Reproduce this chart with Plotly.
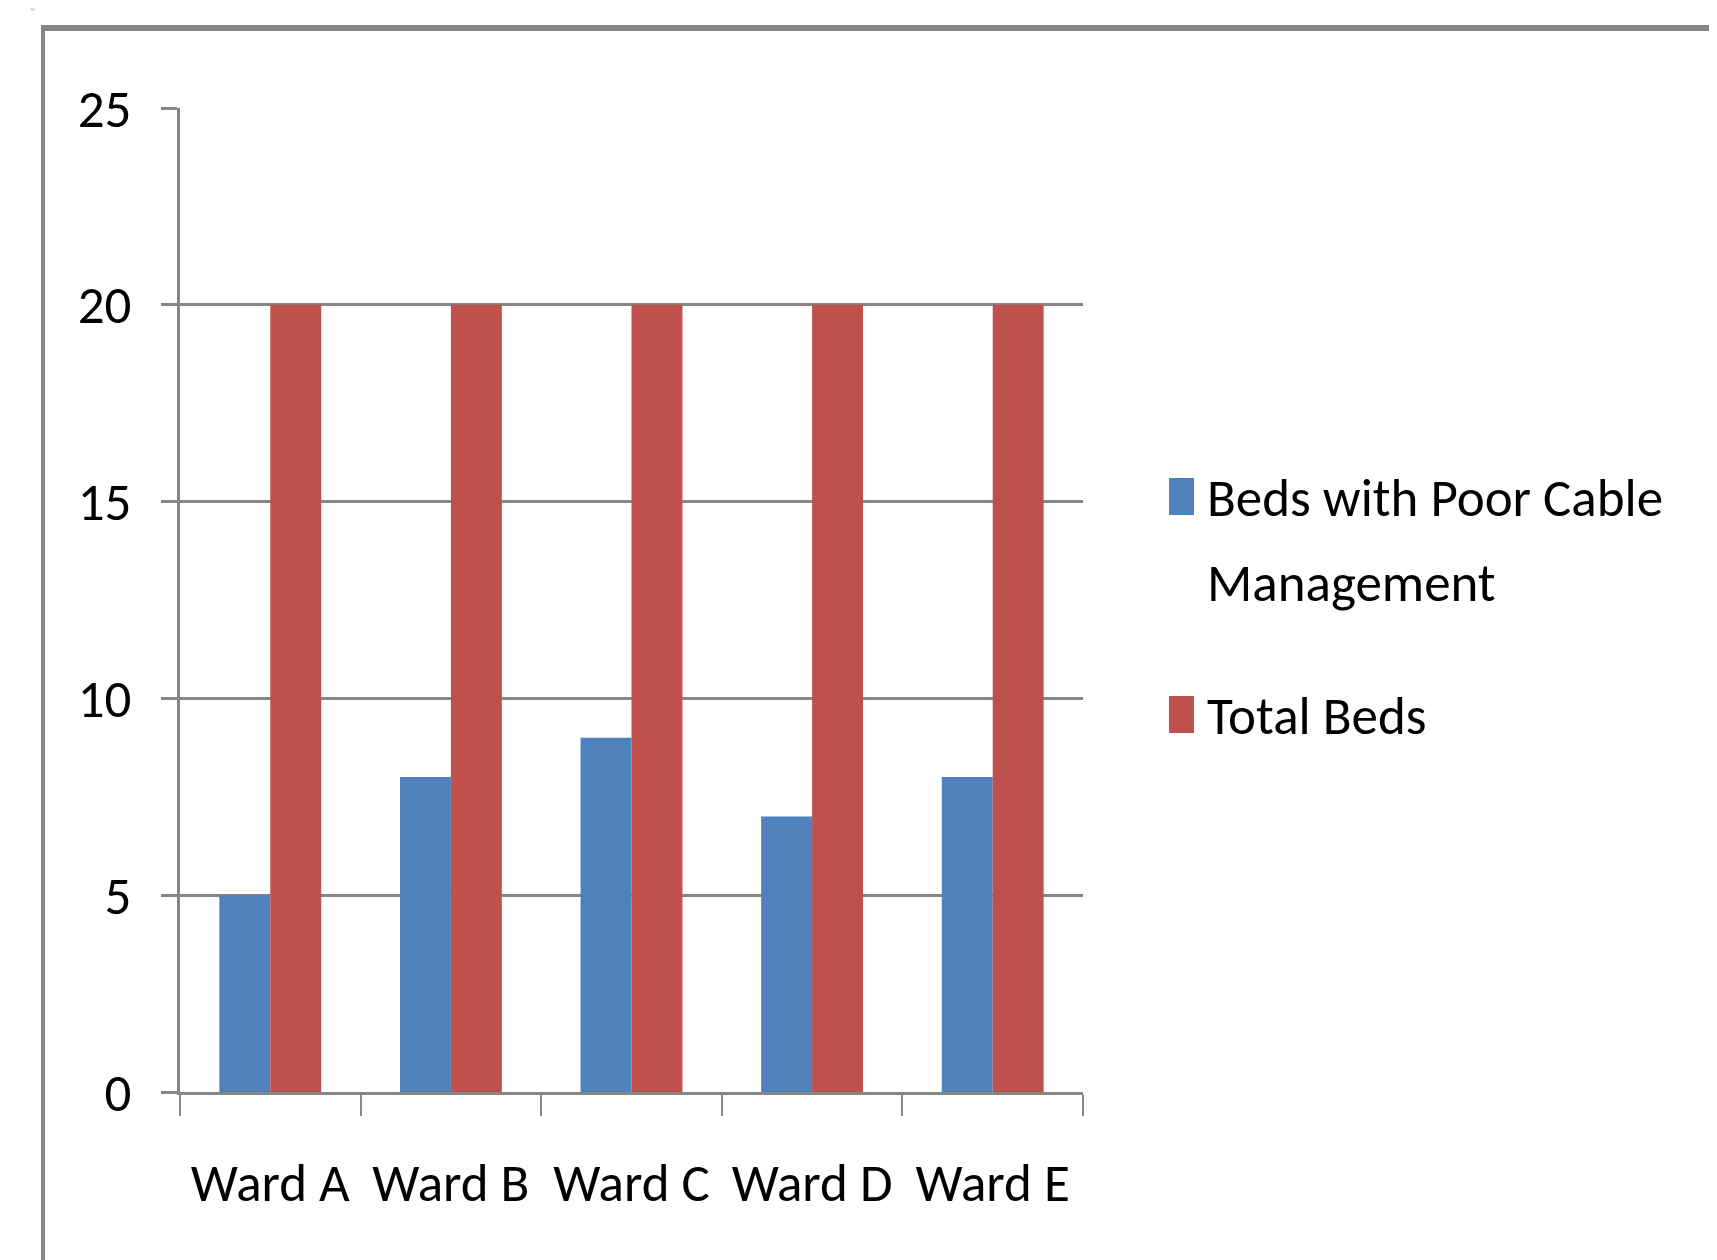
import plotly.graph_objects as go

categories = ["Ward A", "Ward B", "Ward C", "Ward D", "Ward E"]
poor_cable = [5, 8, 9, 7, 8]
total_beds = [20, 20, 20, 20, 20]
series_names = ["Beds with Poor Cable Management", "Total Beds"]
series_colors = ["#4F81BD", "#C0504D"]
y_ticks = [0, 5, 10, 15, 20, 25]

W, H = 1717, 1260
OFF = 8  # page body margin
# target plot area in screen pixels
SL, SR, ST, SB = 180, 1083, 108, 1092
L, R, T, B = SL - OFF, SR - OFF, ST - OFF, SB - OFF
FONT = "Carlito, Liberation Sans, Arial, sans-serif"
FS = 53
GRAY = "#868686"

def px(x):  # screen pixel -> paper
    return (x - SL) / (SR - SL)

def py(y):
    return (SB - y) / (SB - ST)

fig = go.Figure()
for name, vals, col in zip(series_names, [poor_cable, total_beds], series_colors):
    fig.add_trace(go.Bar(x=categories, y=vals, name=name, marker=dict(color=col, line=dict(width=0)),
                         showlegend=False))

shapes = [
    dict(type="line", xref="paper", yref="paper", x0=px(41), x1=px(1730), y0=py(28), y1=py(28),
         line=dict(color=GRAY, width=6)),
    dict(type="line", xref="paper", yref="paper", x0=px(43), x1=px(43), y0=py(25), y1=py(1275),
         line=dict(color=GRAY, width=4)),
    dict(type="rect", xref="paper", yref="paper", x0=px(30), x1=px(35), y0=py(7), y1=py(11),
         fillcolor="#DDDDDD", line=dict(width=0)),
]
annotations = []
# custom legend (square + wrapped label)
legend_rows = [
    (["Beds with Poor Cable", "Management"], series_colors[0], 478, 515, [498, 583]),
    (["Total Beds"], series_colors[1], 696, 733, [716]),
]
for lines, col, s0, s1, ys in legend_rows:
    shapes.append(dict(type="rect", xref="paper", yref="paper", x0=px(1169), x1=px(1194),
                       y0=py(s1), y1=py(s0), fillcolor=col, line=dict(width=0)))
    for txt, yc in zip(lines, ys):
        annotations.append(dict(text=txt, xref="paper", yref="paper", x=px(1205), y=py(yc),
                                xanchor="left", yanchor="middle", showarrow=False,
                                font=dict(family=FONT, size=FS, color="#000000")))

fig.update_layout(
    width=W, height=H,
    margin=dict(l=L, r=W - R, t=T, b=H - B, pad=0, autoexpand=False),
    paper_bgcolor="white", plot_bgcolor="white",
    barmode="group", bargap=0.436, bargroupgap=0,
    font=dict(family=FONT, size=FS, color="#000000"),
    shapes=shapes, annotations=annotations,
    xaxis=dict(type="category", showline=True, linecolor=GRAY, linewidth=3,
               ticks="outside", tickson="boundaries", ticklen=21, tickwidth=2, tickcolor=GRAY,
               showgrid=False, tickangle=0, automargin=False,
               tickfont=dict(family=FONT, size=FS, color="#000000"),
               ticklabelstandoff=42),
    yaxis=dict(range=[0, 25], tickvals=y_ticks, showline=True, linecolor=GRAY, linewidth=3,
               ticks="outside", ticklen=16, tickwidth=3, tickcolor=GRAY, automargin=False,
               showgrid=True, gridcolor=GRAY, gridwidth=3, zeroline=False,
               tickfont=dict(family=FONT, size=FS, color="#000000"), ticklabelstandoff=19),
)

fig.write_html("out.html")
